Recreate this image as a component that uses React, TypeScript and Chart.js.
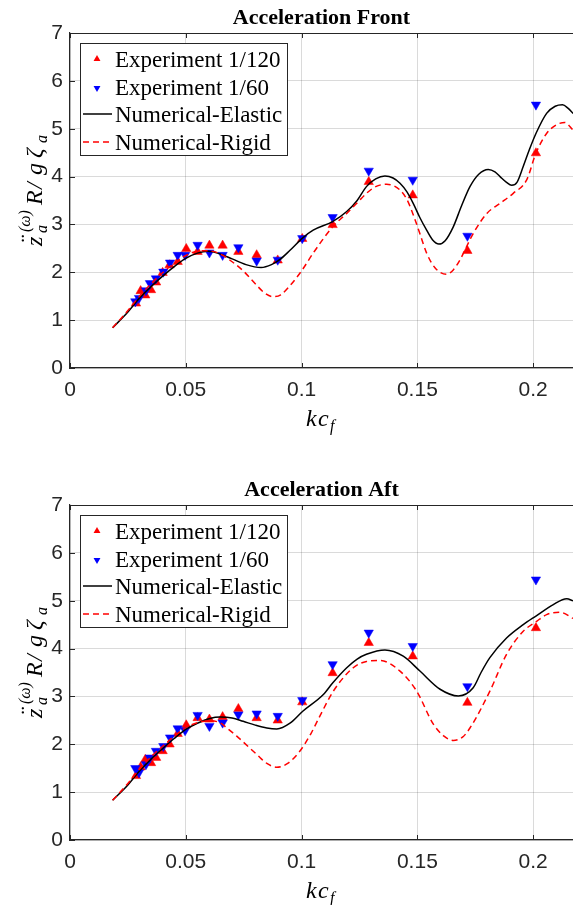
import React, { useEffect, useRef } from "react";
import { Chart, registerables } from "chart.js";

Chart.register(...registerables);

// ---------- data ----------
const X_TICKS = [0, 0.05, 0.1, 0.15, 0.2];
const Y_TICKS = [0, 1, 2, 3, 4, 5, 6, 7];
const X_MIN = 0;
const X_MAX = 0.2172;
const Y_MIN = 0;
const Y_MAX = 7;

const TITLES = ["Acceleration Front", "Acceleration Aft"];
const LEGEND_LABELS = ["Experiment 1/120", "Experiment 1/60", "Numerical-Elastic", "Numerical-Rigid"];

const EXP_X_120 = [0.0285, 0.0305, 0.0325, 0.035, 0.0372, 0.04, 0.043, 0.0465, 0.0502, 0.0551, 0.0602, 0.0659, 0.0727, 0.0806, 0.0897, 0.1003, 0.1134, 0.129, 0.148, 0.1716, 0.2012];
const EXP_X_60 = [0.0282, 0.0298, 0.0328, 0.0345, 0.0371, 0.0403, 0.0432, 0.0465, 0.0497, 0.0551, 0.0602, 0.0659, 0.0727, 0.0806, 0.0897, 0.1003, 0.1134, 0.129, 0.148, 0.1716, 0.2012];

const FRONT_EXP_120 = [1.35, 1.61, 1.52, 1.63, 1.79, 1.99, 2.15, 2.22, 2.49, 2.43, 2.56, 2.56, 2.43, 2.36, 2.25, 2.7, 2.99, 3.89, 3.61, 2.45, 4.49];
const FRONT_EXP_60 = [1.39, 1.46, 1.62, 1.77, 1.87, 2.01, 2.2, 2.36, 2.36, 2.57, 2.41, 2.36, 2.52, 2.24, 2.26, 2.71, 3.15, 4.12, 3.93, 2.76, 5.5];

const AFT_EXP_120 = [1.34, 1.52, 1.68, 1.61, 1.72, 1.86, 2.0, 2.22, 2.4, 2.55, 2.52, 2.57, 2.74, 2.55, 2.5, 2.88, 3.49, 4.12, 3.84, 2.87, 4.43];
const AFT_EXP_60 = [1.5, 1.41, 1.58, 1.72, 1.86, 1.96, 2.14, 2.33, 2.29, 2.61, 2.38, 2.45, 2.62, 2.64, 2.59, 2.92, 3.67, 4.33, 4.05, 3.21, 5.44];

const FRONT_ELASTIC_X = [0.0184, 0.025, 0.03, 0.035, 0.04, 0.045, 0.05, 0.055, 0.0597, 0.065, 0.07, 0.076, 0.0825, 0.087, 0.0907, 0.095, 0.1005, 0.105, 0.1134, 0.1195, 0.124, 0.128, 0.132, 0.136, 0.1395, 0.1425, 0.1455, 0.1482, 0.151, 0.154, 0.1565, 0.1593, 0.162, 0.1655, 0.169, 0.1727, 0.1765, 0.1806, 0.1835, 0.1857, 0.1885, 0.1907, 0.193, 0.1957, 0.1985, 0.2012, 0.2058, 0.2095, 0.2127, 0.215, 0.2172];
const FRONT_ELASTIC_Y = [0.84, 1.17, 1.46, 1.7, 1.92, 2.12, 2.29, 2.4, 2.44, 2.38, 2.28, 2.16, 2.1, 2.16, 2.27, 2.46, 2.72, 2.88, 3.06, 3.27, 3.5, 3.79, 3.95, 4.01, 3.97, 3.86, 3.68, 3.44, 3.15, 2.88, 2.68, 2.59, 2.66, 2.95, 3.38, 3.79, 4.05, 4.15, 4.1, 4.0, 3.88, 3.82, 3.88, 4.21, 4.58, 4.9, 5.32, 5.47, 5.5, 5.43, 5.32];

const FRONT_RIGID_X = [0.0184, 0.025, 0.03, 0.035, 0.04, 0.045, 0.05, 0.055, 0.06, 0.065, 0.07, 0.0748, 0.08, 0.084, 0.0878, 0.091, 0.095, 0.1, 0.105, 0.1134, 0.1195, 0.124, 0.128, 0.132, 0.1367, 0.1425, 0.1455, 0.148, 0.151, 0.154, 0.1575, 0.1626, 0.1655, 0.1684, 0.1741, 0.18, 0.1857, 0.1914, 0.1972, 0.2012, 0.2058, 0.21, 0.2137, 0.2172];
const FRONT_RIGID_Y = [0.84, 1.2, 1.5, 1.76, 1.99, 2.19, 2.35, 2.44, 2.45, 2.38, 2.22, 2.03, 1.76, 1.57, 1.49, 1.53, 1.72, 2.03, 2.4, 2.95, 3.23, 3.45, 3.65, 3.79, 3.84, 3.72, 3.52, 3.23, 2.82, 2.4, 2.1, 1.96, 2.05, 2.26, 2.81, 3.23, 3.44, 3.65, 3.93, 4.49, 4.9, 5.08, 5.13, 4.97];

const AFT_ELASTIC_X = [0.0184, 0.025, 0.03, 0.035, 0.04, 0.045, 0.05, 0.055, 0.0604, 0.0648, 0.07, 0.0748, 0.08, 0.085, 0.0893, 0.095, 0.1005, 0.1094, 0.1134, 0.1195, 0.124, 0.128, 0.136, 0.1439, 0.1511, 0.1598, 0.1677, 0.1741, 0.1775, 0.1813, 0.1885, 0.1957, 0.2012, 0.2087, 0.2145, 0.2172];
const AFT_ELASTIC_Y = [0.83, 1.15, 1.44, 1.69, 1.91, 2.12, 2.31, 2.44, 2.54, 2.57, 2.55, 2.48, 2.4, 2.34, 2.32, 2.44, 2.69, 3.04, 3.28, 3.6, 3.78, 3.88, 3.97, 3.84, 3.53, 3.15, 3.01, 3.18, 3.5, 3.81, 4.22, 4.5, 4.68, 4.92, 5.04, 5.0];

const AFT_RIGID_X = [0.0184, 0.025, 0.03, 0.035, 0.04, 0.045, 0.05, 0.055, 0.06, 0.0648, 0.068, 0.072, 0.0806, 0.085, 0.0893, 0.094, 0.0993, 0.104, 0.108, 0.1137, 0.1223, 0.128, 0.1339, 0.1425, 0.1497, 0.1569, 0.1615, 0.1655, 0.1695, 0.1727, 0.1813, 0.1885, 0.1957, 0.2015, 0.2058, 0.2116, 0.2172];
const AFT_RIGID_Y = [0.83, 1.18, 1.48, 1.74, 1.96, 2.17, 2.35, 2.45, 2.49, 2.45, 2.33, 2.17, 1.79, 1.6, 1.52, 1.6, 1.86, 2.22, 2.6, 3.11, 3.6, 3.73, 3.75, 3.53, 3.11, 2.42, 2.17, 2.08, 2.15, 2.34, 3.11, 3.88, 4.36, 4.57, 4.71, 4.76, 4.63];

// ---------- styles ----------
const DARK = "#262626";
const GRID = "rgba(38,38,38,0.17)";
const RED = "#ff0000";
const BLUE = "#0000ff";
const SERIF = "'Liberation Serif', 'Times New Roman', serif";
const SANS = "'Liberation Sans', Arial, sans-serif";

const toPts = (xs: number[], ys: number[]) => xs.map((x, i) => ({ x, y: ys[i] }));

function triangle(ctx: CanvasRenderingContext2D, cx: number, cy: number, r: number, down: boolean, color: string) {
  ctx.save();
  ctx.fillStyle = color;
  ctx.beginPath();
  const s = down ? -1 : 1;
  ctx.moveTo(cx, cy - s * r);
  ctx.lineTo(cx + r * 0.866, cy + s * r * 0.5);
  ctx.lineTo(cx - r * 0.866, cy + s * r * 0.5);
  ctx.closePath();
  ctx.fill();
  ctx.restore();
}

function makeDecor(title: string) {
  return {
    id: "decor",
    afterDatasetsDraw(chart: any) {
      const ctx: CanvasRenderingContext2D = chart.ctx;
      const a = chart.chartArea;
      const bx = a.left + 10;
      const by = a.top + 10;
      ctx.save();
      ctx.fillStyle = "#ffffff";
      ctx.fillRect(bx, by, 207, 112);
      ctx.strokeStyle = DARK;
      ctx.lineWidth = 1;
      ctx.strokeRect(bx + 0.5, by + 0.5, 207, 112);
      const rows = [16, 44, 71, 99];
      ctx.font = `23px ${SERIF}`;
      ctx.fillStyle = "#000";
      ctx.textBaseline = "alphabetic";
      ctx.textAlign = "left";
      LEGEND_LABELS.forEach((lab, i) => {
        ctx.fillText(lab, bx + 35, by + rows[i] + 8);
      });
      triangle(ctx, bx + 17, by + rows[0], 4, false, RED);
      triangle(ctx, bx + 17, by + rows[1] + 1, 4, true, BLUE);
      ctx.lineWidth = 1.5;
      ctx.strokeStyle = "#000";
      ctx.beginPath();
      ctx.moveTo(bx + 3, by + rows[2]);
      ctx.lineTo(bx + 32, by + rows[2]);
      ctx.stroke();
      ctx.strokeStyle = RED;
      ctx.setLineDash([6, 4]);
      ctx.beginPath();
      ctx.moveTo(bx + 3, by + rows[3]);
      ctx.lineTo(bx + 32, by + rows[3]);
      ctx.stroke();
      ctx.restore();
    },
    afterDraw(chart: any) {
      const ctx: CanvasRenderingContext2D = chart.ctx;
      const a = chart.chartArea;
      const xs = chart.scales.x;
      const ys = chart.scales.y;
      ctx.save();
      ctx.strokeStyle = DARK;
      ctx.lineWidth = 1.2;
      ctx.beginPath();
      ctx.moveTo(a.left, a.top + 0.5);
      ctx.lineTo(a.right, a.top + 0.5);
      ctx.stroke();
      ctx.lineWidth = 1;
      ctx.beginPath();
      X_TICKS.forEach((v) => {
        const px = Math.round(xs.getPixelForValue(v)) + 0.5;
        ctx.moveTo(px, a.bottom);
        ctx.lineTo(px, a.bottom - 5);
        ctx.moveTo(px, a.top);
        ctx.lineTo(px, a.top + 5);
      });
      Y_TICKS.forEach((v) => {
        const py = Math.round(ys.getPixelForValue(v)) + 0.5;
        ctx.moveTo(a.left, py);
        ctx.lineTo(a.left + 5, py);
      });
      ctx.stroke();
      // title
      ctx.fillStyle = "#000";
      ctx.font = `bold 22px ${SERIF}`;
      ctx.textAlign = "center";
      ctx.textBaseline = "alphabetic";
      ctx.fillText(title, (a.left + a.right) / 2, a.top - 9);
      // x label kc_f
      ctx.textAlign = "left";
      ctx.font = `italic 24px ${SERIF}`;
      const xb = a.bottom + 58;
      ctx.fillText("k", 306, xb);
      ctx.fillText("c", 318, xb);
      ctx.font = `italic 16px ${SERIF}`;
      ctx.fillText("f", 330, xb + 5);
      // y label
      ctx.translate(42, a.top + 214);
      ctx.rotate(-Math.PI / 2);
      ctx.font = `italic 24px ${SERIF}`;
      ctx.fillText("z", 1, 0);
      ctx.fillText("\u00a8", 3, -5);
      ctx.font = `italic 16px ${SERIF}`;
      ctx.fillText("a", 14, 5);
      ctx.fillText("(\u03c9)", 15, -12);
      ctx.font = `italic 24px ${SERIF}`;
      ctx.fillText("R", 42, 0);
      ctx.fillText("/", 58, 0);
      ctx.fillText("g", 72, 0);
      ctx.fillText("\u03b6", 89, 0);
      ctx.font = `italic 16px ${SERIF}`;
      ctx.fillText("a", 104, 5);
      ctx.restore();
    },
  };
}

type PanelProps = {
  title: string;
  exp120: number[];
  exp60: number[];
  elX: number[];
  elY: number[];
  rgX: number[];
  rgY: number[];
  height: number;
  padTop: number;
  padBottom: number;
};

function Panel(p: PanelProps) {
  const ref = useRef<HTMLCanvasElement | null>(null);
  useEffect(() => {
    if (!ref.current) return;
    const tickFont = { family: SANS, size: 21 };
    const chart = new Chart(ref.current, {
      type: "line",
      data: {
        datasets: [
          {
            label: LEGEND_LABELS[3],
            data: toPts(p.rgX, p.rgY),
            borderColor: RED,
            borderWidth: 1.5,
            borderDash: [6, 4],
            pointRadius: 0,
            fill: false,
            cubicInterpolationMode: "monotone",
            order: 0,
          },
          {
            label: LEGEND_LABELS[2],
            data: toPts(p.elX, p.elY),
            borderColor: "#000000",
            borderWidth: 1.5,
            pointRadius: 0,
            fill: false,
            cubicInterpolationMode: "monotone",
            order: 1,
          },
          {
            label: LEGEND_LABELS[1],
            data: toPts(EXP_X_60, p.exp60),
            showLine: false,
            pointStyle: "triangle",
            pointRotation: 180,
            pointRadius: 5.4,
            pointBorderWidth: 0.5,
            pointBackgroundColor: BLUE,
            pointBorderColor: BLUE,
            order: 2,
          },
          {
            label: LEGEND_LABELS[0],
            data: toPts(EXP_X_120, p.exp120),
            showLine: false,
            pointStyle: "triangle",
            pointRadius: 5.4,
            pointBorderWidth: 0.5,
            pointBackgroundColor: RED,
            pointBorderColor: RED,
            order: 3,
          },
        ] as any,
      },
      options: {
        responsive: false,
        animation: false,
        devicePixelRatio: 1,
        events: [],
        layout: { autoPadding: false, padding: { left: 0, right: 0, top: p.padTop, bottom: p.padBottom } },
        plugins: { legend: { display: false }, tooltip: { enabled: false }, title: { display: false } },
        scales: {
          x: {
            type: "linear",
            min: X_MIN,
            max: X_MAX,
            afterBuildTicks: (s: any) => {
              s.ticks = X_TICKS.map((v) => ({ value: v }));
            },
            afterFit: (s: any) => {
              s.height = 60;
              s.paddingLeft = 0;
              s.paddingRight = 0;
            },
            ticks: {
              font: tickFont,
              color: DARK,
              padding: 10,
              maxRotation: 0,
              autoSkip: false,
              callback: (v: any) => String(v),
            },
            grid: { color: GRID, lineWidth: 1, drawTicks: false },
            border: { color: DARK, width: 1.2 },
          },
          y: {
            type: "linear",
            min: Y_MIN,
            max: Y_MAX,
            afterBuildTicks: (s: any) => {
              s.ticks = Y_TICKS.map((v) => ({ value: v }));
            },
            afterFit: (s: any) => {
              s.width = 70;
              s.paddingTop = 0;
              s.paddingBottom = 0;
            },
            ticks: { font: tickFont, color: DARK, padding: 7, callback: (v: any) => String(v) },
            grid: { color: GRID, lineWidth: 1, drawTicks: false },
            border: { color: DARK, width: 1.2 },
          },
        },
      } as any,
      plugins: [makeDecor(p.title)],
    });
    return () => chart.destroy();
  }, []);
  return (
    <div style={{ width: 573, height: p.height }}>
      <canvas ref={ref} width={573} height={p.height} style={{ display: "block" }} />
    </div>
  );
}

export default function App() {
  return (
    <div style={{ position: "absolute", left: 0, top: 0, width: 573, height: 905, background: "#fff", overflow: "hidden" }}>
      <Panel
        title={TITLES[0]}
        exp120={FRONT_EXP_120}
        exp60={FRONT_EXP_60}
        elX={FRONT_ELASTIC_X}
        elY={FRONT_ELASTIC_Y}
        rgX={FRONT_RIGID_X}
        rgY={FRONT_RIGID_Y}
        height={452}
        padTop={33}
        padBottom={24}
      />
      <Panel
        title={TITLES[1]}
        exp120={AFT_EXP_120}
        exp60={AFT_EXP_60}
        elX={AFT_ELASTIC_X}
        elY={AFT_ELASTIC_Y}
        rgX={AFT_RIGID_X}
        rgY={AFT_RIGID_Y}
        height={453}
        padTop={53}
        padBottom={5}
      />
    </div>
  );
}
